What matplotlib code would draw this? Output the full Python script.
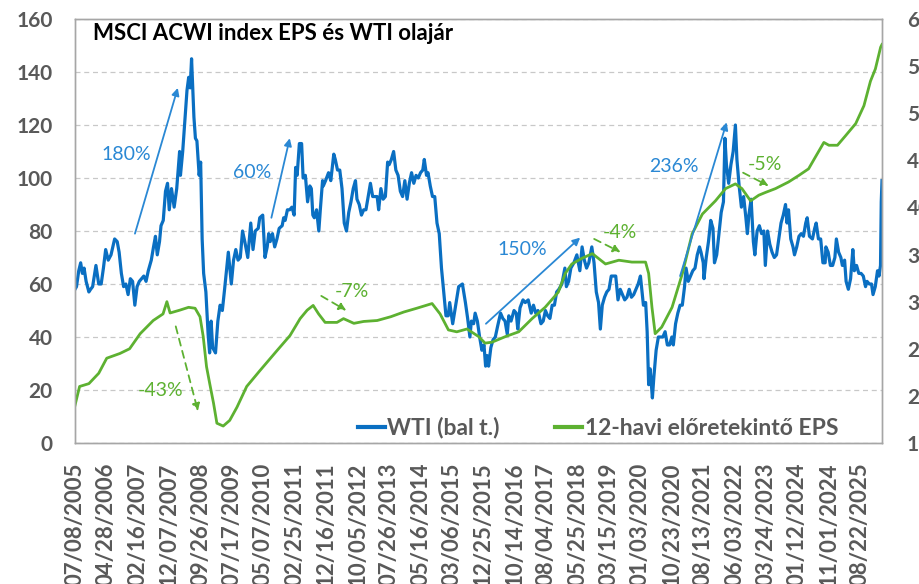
import matplotlib
matplotlib.use("Agg")
import matplotlib.pyplot as plt
import matplotlib.dates as mdates
import pandas as pd
from matplotlib.lines import Line2D

plt.rcParams['font.family'] = ['Lato', 'DejaVu Sans']

# WTI oil price, weekly-ish points (left axis)
wti_dates = [
    '2005-07-08', '2005-07-22', '2005-08-12', '2005-08-30', '2005-09-15', '2005-10-01', '2005-10-20', '2005-11-15',
    '2005-12-01', '2005-12-20', '2006-01-20', '2006-02-15', '2006-03-10', '2006-03-31', '2006-04-21', '2006-05-15',
    '2006-06-10', '2006-07-14', '2006-08-07', '2006-08-25', '2006-09-15', '2006-10-06', '2006-10-27', '2006-11-17',
    '2006-12-08', '2006-12-29', '2007-01-19', '2007-02-09', '2007-03-02', '2007-03-23', '2007-04-13', '2007-05-04',
    '2007-05-25', '2007-06-22', '2007-07-13', '2007-07-31', '2007-08-17', '2007-09-07', '2007-09-21', '2007-10-12',
    '2007-11-02', '2007-11-21', '2007-12-07', '2007-12-28', '2008-01-22', '2008-02-15', '2008-03-13', '2008-03-21',
    '2008-04-11', '2008-04-25', '2008-05-21', '2008-06-06', '2008-06-20', '2008-07-03', '2008-07-25', '2008-08-08',
    '2008-08-22', '2008-09-12', '2008-09-26', '2008-10-10', '2008-10-24', '2008-11-14', '2008-12-05', '2008-12-19',
    '2009-01-02', '2009-01-16', '2009-02-12', '2009-03-06', '2009-03-27', '2009-04-17', '2009-05-08', '2009-06-12',
    '2009-07-10', '2009-07-31', '2009-08-21', '2009-09-11', '2009-10-02', '2009-10-23', '2009-11-13', '2009-12-11',
    '2009-12-31', '2010-01-08', '2010-01-29', '2010-02-19', '2010-03-19', '2010-04-02', '2010-04-30', '2010-05-21',
    '2010-06-11', '2010-06-25', '2010-07-09', '2010-07-30', '2010-08-20', '2010-09-10', '2010-10-01', '2010-10-29',
    '2010-11-12', '2010-11-26', '2010-12-17', '2011-01-07', '2011-01-28', '2011-02-18', '2011-03-04', '2011-03-18',
    '2011-04-08', '2011-04-29', '2011-05-13', '2011-06-03', '2011-06-24', '2011-07-15', '2011-07-29', '2011-08-12',
    '2011-08-26', '2011-09-16', '2011-10-07', '2011-10-21', '2011-11-11', '2011-11-18', '2011-12-09', '2012-01-06',
    '2012-01-27', '2012-02-24', '2012-03-09', '2012-03-30', '2012-04-20', '2012-05-11', '2012-06-01', '2012-06-22',
    '2012-07-13', '2012-08-03', '2012-08-24', '2012-09-14', '2012-09-28', '2012-10-19', '2012-11-09', '2012-11-30',
    '2012-12-21', '2013-01-11', '2013-02-01', '2013-02-22', '2013-03-15', '2013-04-05', '2013-04-19', '2013-05-10',
    '2013-05-31', '2013-06-21', '2013-07-12', '2013-07-26', '2013-08-16', '2013-09-06', '2013-09-27', '2013-10-18',
    '2013-11-08', '2013-11-29', '2013-12-20', '2014-01-10', '2014-01-31', '2014-02-21', '2014-03-14', '2014-04-04',
    '2014-04-25', '2014-05-16', '2014-06-06', '2014-06-20', '2014-07-11', '2014-07-25', '2014-08-15', '2014-09-05',
    '2014-09-26', '2014-10-17', '2014-11-07', '2014-11-28', '2014-12-19', '2015-01-09', '2015-01-30', '2015-02-13',
    '2015-03-13', '2015-04-10', '2015-05-08', '2015-06-12', '2015-07-10', '2015-07-31', '2015-08-21', '2015-09-04',
    '2015-09-25', '2015-10-09', '2015-10-30', '2015-11-20', '2015-12-11', '2015-12-31', '2016-01-15', '2016-01-29',
    '2016-02-12', '2016-03-04', '2016-03-25', '2016-04-15', '2016-05-06', '2016-06-03', '2016-06-24', '2016-07-15',
    '2016-08-05', '2016-08-19', '2016-09-09', '2016-10-07', '2016-10-28', '2016-11-11', '2016-12-02', '2016-12-30',
    '2017-01-20', '2017-02-17', '2017-03-17', '2017-04-07', '2017-04-28', '2017-05-19', '2017-06-16', '2017-07-07',
    '2017-07-28', '2017-08-18', '2017-09-08', '2017-09-29', '2017-10-20', '2017-11-10', '2017-12-01', '2017-12-29',
    '2018-01-26', '2018-02-09', '2018-03-02', '2018-03-23', '2018-04-20', '2018-05-18', '2018-06-15', '2018-07-06',
    '2018-07-27', '2018-08-17', '2018-09-07', '2018-10-05', '2018-10-26', '2018-11-16', '2018-12-07', '2018-12-24',
    '2019-01-11', '2019-02-01', '2019-02-22', '2019-03-15', '2019-04-05', '2019-04-26', '2019-05-17', '2019-06-07',
    '2019-06-28', '2019-07-19', '2019-08-09', '2019-08-30', '2019-09-20', '2019-10-11', '2019-11-01', '2019-11-22',
    '2019-12-13', '2020-01-03', '2020-01-31', '2020-02-21', '2020-03-06', '2020-03-20', '2020-04-03', '2020-04-24',
    '2020-05-08', '2020-05-29', '2020-06-19', '2020-07-10', '2020-07-31', '2020-08-21', '2020-09-11', '2020-10-02',
    '2020-10-23', '2020-11-06', '2020-11-27', '2020-12-18', '2021-01-08', '2021-01-29', '2021-02-19', '2021-03-05',
    '2021-03-26', '2021-04-16', '2021-05-07', '2021-05-28', '2021-06-18', '2021-07-09', '2021-07-23', '2021-08-13',
    '2021-08-20', '2021-09-10', '2021-10-01', '2021-10-22', '2021-11-12', '2021-11-26', '2021-12-17', '2022-01-07',
    '2022-01-28', '2022-02-18', '2022-03-04', '2022-03-18', '2022-04-08', '2022-04-29', '2022-05-20', '2022-06-10',
    '2022-06-24', '2022-07-15', '2022-08-05', '2022-08-26', '2022-09-16', '2022-09-30', '2022-10-14', '2022-11-04',
    '2022-11-25', '2022-12-09', '2022-12-30', '2023-01-20', '2023-02-10', '2023-03-03', '2023-03-17', '2023-04-07',
    '2023-04-28', '2023-05-19', '2023-06-09', '2023-06-30', '2023-07-21', '2023-08-11', '2023-09-01', '2023-09-22',
    '2023-10-06', '2023-10-20', '2023-11-10', '2023-12-01', '2023-12-15', '2024-01-05', '2024-01-26', '2024-02-16',
    '2024-03-08', '2024-03-29', '2024-04-12', '2024-05-03', '2024-05-31', '2024-06-21', '2024-07-05', '2024-07-26',
    '2024-08-16', '2024-09-06', '2024-09-27', '2024-10-04', '2024-10-25', '2024-11-15', '2024-12-06', '2024-12-27',
    '2025-01-10', '2025-01-31', '2025-02-21', '2025-03-07', '2025-03-28', '2025-04-11', '2025-05-02', '2025-05-23',
    '2025-06-13', '2025-06-27', '2025-07-18', '2025-08-08', '2025-08-29', '2025-09-19', '2025-10-10', '2025-10-24',
    '2025-11-14', '2025-12-05', '2025-12-19', '2026-01-09', '2026-01-30', '2026-02-13', '2026-02-27', '2026-03-06',
    '2026-03-13',
]
wti_values = [
    58, 59, 65, 68, 64, 66, 61, 57,
    58, 59, 67, 60, 60, 66, 73, 69,
    71, 77, 76, 72, 64, 59, 60, 56,
    62, 61, 52, 59, 61, 62, 63, 61,
    65, 69, 74, 78, 71, 76, 82, 84,
    95, 98, 88, 96, 89, 96, 110, 101,
    110, 118, 133, 138, 134, 145, 123, 115,
    114, 101, 106, 77, 64, 57, 41, 34,
    46, 36, 34, 46, 52, 50, 58, 72,
    60, 69, 73, 69, 70, 80, 76, 70,
    79, 83, 73, 80, 81, 85, 86, 70,
    74, 79, 76, 79, 74, 77, 81, 82,
    85, 84, 88, 88, 89, 86, 104, 101,
    113, 113, 100, 101, 91, 97, 96, 86,
    85, 88, 80, 88, 99, 97, 99, 102,
    99, 109, 107, 103, 103, 96, 83, 80,
    87, 91, 96, 99, 92, 90, 86, 88,
    88, 93, 98, 93, 93, 93, 88, 96,
    92, 93, 106, 105, 107, 110, 103, 101,
    95, 93, 99, 92, 98, 102, 98, 101,
    100, 102, 103, 107, 101, 102, 97, 93,
    93, 83, 79, 66, 57, 48, 48, 53,
    45, 52, 59, 60, 53, 47, 40, 46,
    45, 49, 46, 40, 35, 37, 29, 33,
    29, 36, 39, 40, 44, 49, 47, 46,
    41, 48, 46, 50, 49, 43, 51, 54,
    53, 54, 49, 52, 49, 50, 45, 46,
    50, 48, 47, 52, 52, 57, 58, 60,
    66, 59, 61, 66, 68, 71, 65, 74,
    69, 66, 68, 74, 68, 57, 53, 43,
    52, 55, 57, 58, 63, 63, 63, 54,
    58, 56, 54, 55, 58, 55, 56, 58,
    60, 63, 52, 53, 42, 22, 28, 17,
    25, 35, 40, 40, 40, 42, 37, 37,
    40, 37, 45, 49, 52, 52, 59, 66,
    61, 63, 65, 66, 71, 74, 72, 68,
    62, 70, 76, 84, 81, 68, 71, 79,
    87, 91, 115, 105, 98, 105, 110, 120,
    107, 97, 89, 93, 85, 79, 86, 92,
    76, 71, 80, 82, 79, 80, 67, 80,
    75, 72, 70, 71, 77, 83, 86, 90,
    83, 88, 77, 74, 71, 74, 78, 79,
    78, 83, 85, 78, 77, 81, 83, 77,
    77, 68, 68, 74, 72, 67, 67, 70,
    77, 72, 70, 67, 69, 61, 58, 62,
    73, 65, 67, 64, 64, 63, 59, 61,
    60, 60, 56, 59, 65, 63, 67, 91,
    99,
]

# MSCI ACWI 12-month forward EPS (right axis)
eps_dates = [
    '2005-07-08', '2005-08-20', '2005-11-15', '2006-02-15', '2006-05-01', '2006-09-01', '2006-12-01', '2007-03-10',
    '2007-07-10', '2007-10-10', '2007-11-15', '2007-12-15', '2008-03-15', '2008-06-05', '2008-08-05', '2008-09-20',
    '2008-10-20', '2008-11-20', '2008-12-20', '2009-01-25', '2009-02-25', '2009-04-25', '2009-06-25', '2009-09-01',
    '2009-12-01', '2010-04-05', '2010-09-10', '2011-01-10', '2011-04-15', '2011-06-20', '2011-08-15', '2011-10-05',
    '2011-12-05', '2012-03-25', '2012-05-25', '2012-08-30', '2012-11-30', '2013-04-05', '2013-08-10', '2013-12-10',
    '2014-04-10', '2014-09-01', '2014-11-15', '2015-02-01', '2015-04-20', '2015-07-25', '2015-11-10', '2016-01-10',
    '2016-03-15', '2016-07-20', '2016-11-20', '2017-03-25', '2017-07-25', '2017-11-25', '2018-01-30', '2018-04-01',
    '2018-07-05', '2018-10-10', '2019-02-10', '2019-06-15', '2019-10-15', '2020-02-20', '2020-03-20', '2020-04-20',
    '2020-05-20', '2020-07-20', '2020-10-25', '2021-01-30', '2021-05-01', '2021-08-05', '2021-12-05', '2022-03-10',
    '2022-06-10', '2022-08-10', '2022-10-30', '2023-01-15', '2023-03-20', '2023-06-20', '2023-10-20', '2024-01-25',
    '2024-04-25', '2024-06-25', '2024-09-15', '2024-11-01', '2025-01-20', '2025-04-05', '2025-07-10', '2025-09-25',
    '2025-11-25', '2026-01-10', '2026-02-28', '2026-03-13',
]
eps_values = [
    19.0, 21.0, 21.3, 22.4, 24.0, 24.5, 25.0, 26.6,
    28.0, 28.7, 30.0, 28.8, 29.1, 29.4, 29.3, 28.4,
    26.3, 23.1, 21.3, 19.2, 17.1, 16.8, 17.4, 18.8,
    21.0, 22.7, 24.8, 26.4, 28.2, 29.1, 29.6, 28.7,
    27.8, 27.8, 28.2, 27.7, 27.9, 28.0, 28.4, 28.9,
    29.3, 29.8, 28.7, 27.0, 26.8, 27.1, 26.3, 25.6,
    25.7, 26.3, 26.8, 28.2, 29.4, 31.0, 33.0, 34.0,
    34.6, 35.1, 34.0, 34.4, 34.2, 34.2, 33.0, 29.4,
    26.6, 27.3, 29.4, 33.0, 37.2, 39.3, 40.7, 42.0,
    42.5, 42.0, 40.7, 41.3, 41.6, 42.0, 42.7, 43.4,
    44.1, 45.3, 46.9, 46.6, 46.6, 47.6, 48.9, 50.8,
    53.4, 54.7, 57.0, 57.3,
]

xtick_labels = [
    '07/08/2005', '04/28/2006', '02/16/2007', '12/07/2007', '09/26/2008', '07/17/2009', '05/07/2010',
    '02/25/2011', '12/16/2011', '10/05/2012', '07/26/2013', '05/16/2014', '03/06/2015', '12/25/2015',
    '10/14/2016', '08/04/2017', '05/25/2018', '03/15/2019', '01/03/2020', '10/23/2020', '08/13/2021',
    '06/03/2022', '03/24/2023', '01/12/2024', '11/01/2024', '08/22/2025',
]

# arrows: (text, text_date, text_y, tail_date, tail_y, head_date, head_y, color, dashed)  - left axis units
notes = [
    ('180%', '2006-10-27', 109, '2007-01-20', 79, '2008-02-25', 134, 'b', False),
    ('60%', '2010-01-22', 102, '2010-07-20', 85, '2011-01-08', 115, 'b', False),
    ('-43%', '2007-09-17', 20, '2008-02-06', 44, '2008-09-01', 12, 'g', True),
    ('-7%', '2012-08-07', 57, '2011-10-30', 55.5, '2012-06-20', 50, 'g', True),
    ('150%', '2016-12-25', 73, '2016-01-18', 45, '2018-06-18', 77.5, 'b', False),
    ('-4%', '2019-06-25', 79.5, '2018-10-27', 77, '2019-07-01', 72, 'g', True),
    ('236%', '2020-11-13', 104.5, '2021-01-08', 63, '2022-03-20', 121, 'b', False),
    ('-5%', '2023-03-17', 105, '2022-08-21', 102, '2023-04-17', 97, 'g', True),
]

blue = '#0A6FC2'
green = '#5DB131'
note_colors = {'b': '#2A88D4', 'g': '#5DB131'}
gray = '#595959'

fig = plt.figure(figsize=(9.2, 5.84), dpi=100)
ax = fig.add_axes([75 / 920, 1 - 443 / 584, 807 / 920, 424 / 584])
ax2 = ax.twinx()

ax.plot(pd.to_datetime(wti_dates), wti_values, color=blue, lw=2.3, solid_joinstyle='round')
ax2.plot(pd.to_datetime(eps_dates), eps_values, color=green, lw=2.0, solid_joinstyle='round')

ax.set_ylim(0, 160)
ax.set_yticks(range(0, 161, 20))
ax2.set_ylim(15, 60)
ax2.set_yticks(range(15, 61, 5))
ax.set_xlim(pd.Timestamp('2005-07-08'), pd.Timestamp('2026-03-13'))

ax.set_xticks(pd.to_datetime(xtick_labels, format='%m/%d/%Y'))
ax.set_xticklabels(xtick_labels, rotation=90)

ax.grid(axis='y', color='#C8C8C8', ls=(0, (4, 3)), lw=0.9)
ax.set_axisbelow(True)

for a in (ax, ax2):
    for s in a.spines.values():
        s.set_color('#A6A6A6')
        s.set_linewidth(1.0)
    a.tick_params(length=0, colors=gray, labelsize=15)
ax.tick_params(axis='y', pad=16)
ax2.tick_params(axis='y', pad=18)
ax.tick_params(axis='x', pad=14, labelsize=16)
for t in ax.get_xticklabels() + ax.get_yticklabels() + ax2.get_yticklabels():
    t.set_fontweight('bold')

ax.text(0.022, 0.965, 'MSCI ACWI index EPS és WTI olajár', transform=ax.transAxes,
        ha='left', va='center', fontsize=16, fontweight='bold', color='black')

for txt, td, ty, d0, y0, d1, y1, c, dashed in notes:
    col = note_colors[c]
    ax2.annotate('', xy=(mdates.datestr2num(d1), y1), xytext=(mdates.datestr2num(d0), y0),
                 xycoords=ax.transData, textcoords=ax.transData,
                 arrowprops=dict(arrowstyle='-|>', color=col, lw=1.3, mutation_scale=11,
                                 linestyle=(0, (4, 3)) if dashed else '-',
                                 shrinkA=0, shrinkB=0))
    ax2.text(mdates.datestr2num(td), ty, txt, transform=ax.transData, ha='center', va='center',
             fontsize=14, color=col)

handles = [Line2D([], [], color=blue, lw=3), Line2D([], [], color=green, lw=3)]
leg = ax2.legend(handles, ['WTI (bal t.)', '12-havi előretekintő EPS'], ncol=2, frameon=False,
                 loc='center', bbox_to_anchor=(0.648, 0.036), handlelength=1.2, handletextpad=0.1,
                 columnspacing=2.4, borderaxespad=0, fontsize=16.5)
for t in leg.get_texts():
    t.set_color(gray)
    t.set_fontweight('bold')

fig.savefig('out.png', dpi=100)
